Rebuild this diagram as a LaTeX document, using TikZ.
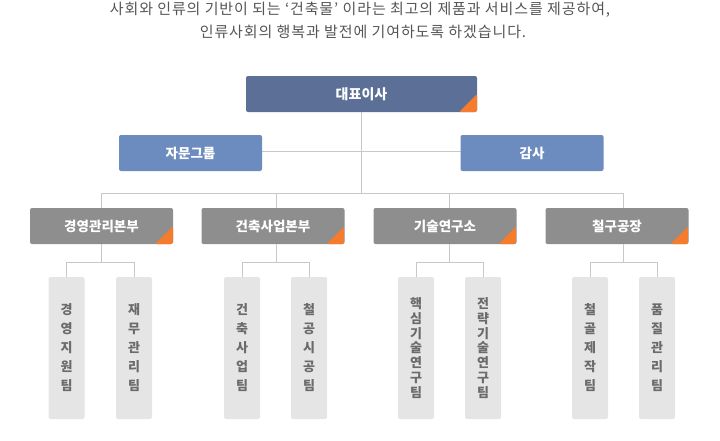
\documentclass[tikz,border=0pt]{standalone}
\usepackage{fontspec}
\setmainfont{Noto Sans CJK KR}
\newfontfamily\introfont[LetterSpace=6]{Noto Sans CJK KR}
\usetikzlibrary{positioning}
\definecolor{ceoC}{HTML}{5B6F97}
\definecolor{advC}{HTML}{6C8BBF}
\definecolor{divC}{HTML}{8E8E8E}
\definecolor{accC}{HTML}{F47C2C}
\definecolor{teamC}{HTML}{E5E5E5}
\definecolor{teamT}{HTML}{6B6B6B}
\definecolor{lineC}{HTML}{C8C8C8}
\definecolor{introC}{HTML}{555555}
\tikzset{
  corner/.style={path picture={\fill[accC] (path picture bounding box.south east) -- ++(-18pt,0pt) -- ++(18pt,18pt) -- cycle;}},
  ceobox/.style={fill=ceoC, rounded corners=2pt, minimum width=231pt, minimum height=36pt, inner sep=0pt, text=white, font=\bfseries\fontsize{14}{16}\selectfont, corner},
  advbox/.style={fill=advC, rounded corners=2pt, minimum width=143pt, minimum height=36pt, inner sep=0pt, text=white, font=\bfseries\fontsize{13.5}{16}\selectfont},
  divbox/.style={fill=divC, rounded corners=2pt, minimum width=143pt, minimum height=36pt, inner sep=0pt, text=white, font=\bfseries\fontsize{13.5}{16}\selectfont, corner},
  teambox/.style={fill=teamC, rounded corners=2pt, minimum width=36pt, minimum height=142pt, inner sep=0pt, text=teamT, align=center, font=\bfseries\fontsize{13}{19}\selectfont},
  teamlong/.style={teambox, font=\bfseries\fontsize{13}{14.7}\selectfont},
  conn/.style={draw=lineC, line width=0.9pt},
  intro/.style={text=introC, font=\introfont\fontsize{15}{17}\selectfont, inner sep=0pt}
}
\begin{document}
\begin{tikzpicture}[x=1pt,y=-1pt]
\useasboundingbox (0,0) rectangle (720,440);
\node[intro] (l1) at (360,10) {사회와 인류의 기반이 되는 ‘건축물’ 이라는 최고의 제품과 서비스를 제공하여,};
\node[intro] (l2) at (363,32) {인류사회의 행복과 발전에 기여하도록 하겠습니다.};

% coordinates for connectors
\coordinate (top) at (361,193);
\coordinate (ja) at (101,193);
\coordinate (jb) at (276,193);
\coordinate (jc) at (449,193);
\coordinate (jd) at (623,193);

\coordinate (ka) at (101,262);
\coordinate (kb) at (276,262);
\coordinate (kc) at (449,262);
\coordinate (kd) at (623,262);

% lines first (behind boxes)
\coordinate (ceoB) at (361,112);
\draw[conn] (ceoB) -- (top);
\draw[conn] (ja) -- (jd);
\coordinate (adL) at (262,151);
\coordinate (adR) at (461,151);
\draw[conn] (adL) -- (adR);

\node[ceobox] (ceo) at (361.5,94) {대표이사};
\node[advbox] (adv) at (190.5,153) {자문그룹};
\node[advbox] (aud) at (532,153) {감사};

\node[divbox] (d1) at (101.5,226) {경영관리본부};
\node[divbox] (d2) at (273,226) {건축사업본부};
\node[divbox] (d3) at (445,226) {기술연구소};
\node[divbox] (d4) at (617,226) {철구공장};

\node[teambox] (t1) at (66.5,348) {경\\영\\지\\원\\팀};
\node[teambox] (t2) at (134,348) {재\\무\\관\\리\\팀};
\node[teambox] (t3) at (242,348) {건\\축\\사\\업\\팀};
\node[teambox] (t4) at (309,348) {철\\공\\시\\공\\팀};
\node[teamlong] (t5) at (416,348) {핵\\심\\기\\술\\연\\구\\팀};
\node[teamlong] (t6) at (483,348) {전\\략\\기\\술\\연\\구\\팀};
\node[teambox] (t7) at (590,348) {철\\골\\제\\작\\팀};
\node[teambox] (t8) at (657,348) {품\\질\\관\\리\\팀};

% connectors
\draw[conn] (ja) -- (ja |- d1.north);
\draw[conn] (jb) -- (jb |- d2.north);
\draw[conn] (jc) -- (jc |- d3.north);
\draw[conn] (jd) -- (jd |- d4.north);

\draw[conn] (ka |- d1.south) -- (ka);
\draw[conn] (kb |- d2.south) -- (kb);
\draw[conn] (kc |- d3.south) -- (kc);
\draw[conn] (kd |- d4.south) -- (kd);

\draw[conn] (t1.north) -- (t1.north |- ka) -- (t2.north |- ka) -- (t2.north);
\draw[conn] (t3.north) -- (t3.north |- kb) -- (t4.north |- kb) -- (t4.north);
\draw[conn] (t5.north) -- (t5.north |- kc) -- (t6.north |- kc) -- (t6.north);
\draw[conn] (t7.north) -- (t7.north |- kd) -- (t8.north |- kd) -- (t8.north);
\end{tikzpicture}
\end{document}
